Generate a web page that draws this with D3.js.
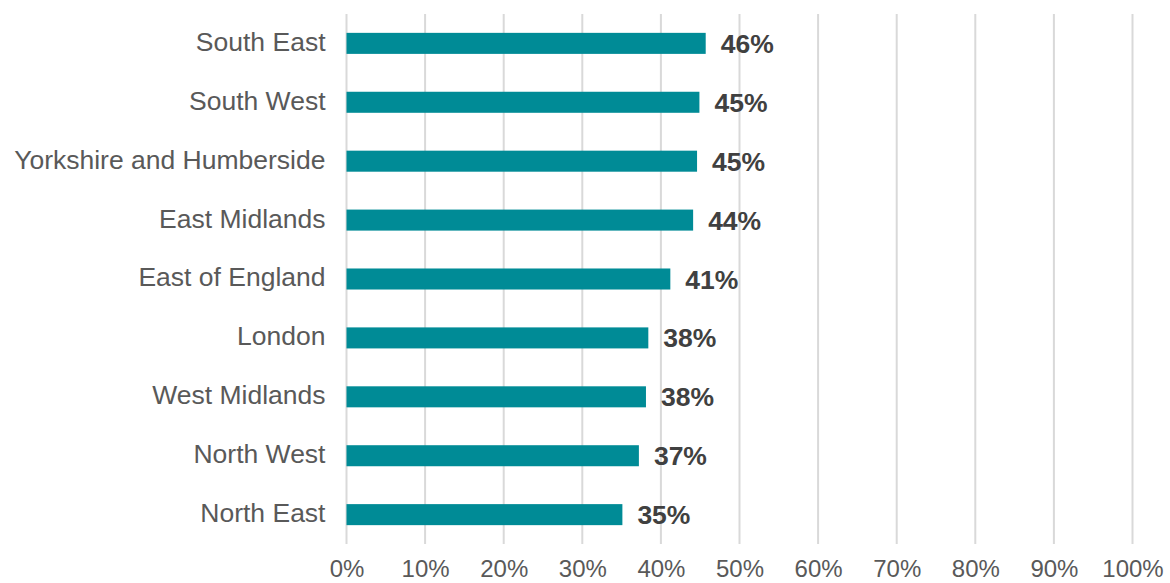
<!DOCTYPE html>
<html>
<head>
<meta charset="utf-8">
<script src="https://cdn.jsdelivr.net/npm/d3@7"></script>
<style>
  html, body { margin: 0; padding: 0; background: #ffffff; }
  svg { display: block; }
  text { font-family: "Liberation Sans", Arial, Helvetica, sans-serif; }
</style>
</head>
<body>
<svg id="chart" width="1170" height="583"></svg>
<script>
// Regions, top to bottom
const regions = [
  "South East", "South West", "Yorkshire and Humberside", "East Midlands",
  "East of England", "London", "West Midlands", "North West", "North East"
];
// Share of respondents per region (fraction)
const shares = [0.457, 0.449, 0.446, 0.441, 0.412, 0.384, 0.381, 0.372, 0.351];
// Axis ticks
const tickValues = [0, 0.1, 0.2, 0.3, 0.4, 0.5, 0.6, 0.7, 0.8, 0.9, 1.0];

const svg = d3.select("#chart");
const plotLeft = 346.5, plotRight = 1132.5, plotTop = 14, plotBottom = 544;

const x = d3.scaleLinear().domain([0, 1]).range([plotLeft, plotRight]);
const y = d3.scaleBand().domain(regions).range([plotTop, plotBottom]).paddingInner(0.643).paddingOuter(0.32);

// Vertical gridlines
svg.append("g")
  .selectAll("line")
  .data(tickValues)
  .join("line")
  .attr("x1", d => x(d)).attr("x2", d => x(d))
  .attr("y1", plotTop).attr("y2", plotBottom)
  .attr("stroke", "#d9d9d9")
  .attr("stroke-width", 2);

// X axis labels
const xAxis = d3.axisBottom(x)
  .tickValues(tickValues)
  .tickSize(0)
  .tickPadding(0)
  .tickFormat(d3.format(".0%"));
const gx = svg.append("g").attr("transform", `translate(0, ${plotBottom + 16})`).call(xAxis);
gx.select(".domain").remove();
gx.selectAll("text")
  .attr("font-size", 24)
  .attr("fill", "#595959")
  .attr("dy", "0.71em")
  .attr("font-family", "\"Liberation Sans\", Arial, sans-serif");

// Y axis category labels
const yAxis = d3.axisLeft(y).tickSize(0).tickPadding(21);
const gy = svg.append("g").attr("transform", `translate(${plotLeft}, 0)`).call(yAxis);
gy.select(".domain").remove();
gy.selectAll("text")
  .attr("font-size", 26.5)
  .attr("fill", "#595959")
  .attr("dy", "0.28em")
  .attr("font-family", "\"Liberation Sans\", Arial, sans-serif");

// Bars
svg.append("g")
  .selectAll("rect")
  .data(regions)
  .join("rect")
  .attr("x", x(0))
  .attr("y", d => y(d))
  .attr("width", (d, i) => x(shares[i]) - x(0))
  .attr("height", y.bandwidth())
  .attr("fill", "#008b96");

// Value labels
svg.append("g")
  .selectAll("text")
  .data(regions)
  .join("text")
  .attr("x", (d, i) => x(shares[i]) + 15)
  .attr("y", d => y(d) + y.bandwidth() / 2)
  .attr("dy", "0.36em")
  .attr("font-size", 26.5)
  .attr("font-weight", "bold")
  .attr("fill", "#404040")
  .text((d, i) => d3.format(".0%")(shares[i]));
</script>
</body>
</html>
